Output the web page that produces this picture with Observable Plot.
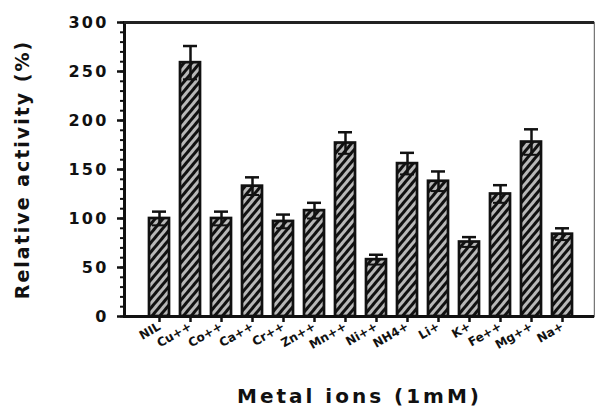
<!DOCTYPE html>
<html>
<head>
<meta charset="utf-8">
<script src="https://cdn.jsdelivr.net/npm/d3@7"></script>
<script src="https://cdn.jsdelivr.net/npm/@observablehq/plot@0.6"></script>
<style>
  html, body { margin: 0; padding: 0; background: #fff; }
  #chart svg { font-family: "DejaVu Sans", "Liberation Sans", Arial, sans-serif; font-weight: bold; }
  .ytk text { font-size: 16px; letter-spacing: 2.2px; }
  .xtk text { font-size: 12px; }
</style>
</head>
<body>
<div id="chart"></div>
<script>
const ions = ["NIL","Cu++","Co++","Ca++","Cr++","Zn++","Mn++","Ni++","NH4+","Li+","K+","Fe++","Mg++","Na+"];
const activity = [100, 259, 100, 133, 97, 108, 177, 58, 156, 138, 76, 125, 178, 84];
const errors = [7, 17, 7, 9, 7, 8, 11, 5, 11, 10, 5, 9, 13, 6];
const yTicks = [0, 50, 100, 150, 200, 250, 300];
const yMinor = d3.range(0, 301, 10);

const data = ions.map((ion, i) => ({ion, v: activity[i], e: errors[i]}));

const chart = Plot.plot({
  width: 595,
  height: 408,
  marginLeft: 124,
  marginRight: 1,
  marginTop: 22,
  marginBottom: 92,
  x: {domain: ions, range: [130, 591], padding: 0.37, paddingOuter: 0.5},
  y: {domain: [0, 300]},
  marks: [
    Plot.frame({stroke: "#777", strokeWidth: 1.5}),
    Plot.barY(data, {x: "ion", y: "v", fill: "url(#hatch)", stroke: "#111", strokeWidth: 2.7}),
    Plot.ruleX(data, {x: "ion", y1: d => d.v - d.e, y2: d => d.v + d.e, stroke: "#111", strokeWidth: 2.5}),
    Plot.tickY(data, {x: "ion", y: d => d.v + d.e, stroke: "#111", strokeWidth: 2.5, insetLeft: 3, insetRight: 3}),
    Plot.tickY(data, {x: "ion", y: d => d.v - d.e, stroke: "#111", strokeWidth: 2, insetLeft: 3, insetRight: 3}),
    Plot.frame({anchor: "left", stroke: "#111", strokeWidth: 3}),
    Plot.ruleY([0], {stroke: "#111", strokeWidth: 3}),
    Plot.ruleY([300], {stroke: "#222", strokeWidth: 3}),
    Plot.axisY({ticks: yMinor, tickSize: 4, text: null, label: null, stroke: "#111", strokeWidth: 2}),
    Plot.axisY({ticks: yTicks, tickSize: 7, tickPadding: 9, label: null, className: "ytk", stroke: "#111", strokeWidth: 2.5, fill: "#111"}),
    Plot.axisX({tickSize: 6, tickRotate: -30, tickPadding: 3, label: null, className: "xtk", stroke: "#111", strokeWidth: 2.5, fill: "#111"}),
    Plot.text(["Relative activity (%)"], {frameAnchor: "left", dx: -102, rotate: -90, textAnchor: "middle", lineAnchor: "middle", fontSize: 19, fontWeight: "bold", fill: "#111", className: "ylab"}),
    Plot.text(["Metal ions (1mM)"], {frameAnchor: "bottom", dy: 80, textAnchor: "middle", lineAnchor: "middle", fontSize: 20, fontWeight: "bold", fill: "#111", className: "xlab"})
  ]
});

// hatch pattern definition for the bars
const svg = d3.select(chart);
const defs = svg.insert("defs", ":first-child");
const pat = defs.append("pattern")
  .attr("id", "hatch")
  .attr("patternUnits", "userSpaceOnUse")
  .attr("width", 6).attr("height", 6)
  .attr("patternTransform", "rotate(40)");
pat.append("rect").attr("width", 6).attr("height", 6).attr("fill", "#b8b8b8");
pat.append("line").attr("x1", 1.5).attr("y1", 0).attr("x2", 1.5).attr("y2", 6)
  .attr("stroke", "#111").attr("stroke-width", 3);

svg.selectAll(".xlab text").style("letter-spacing", "3px");
svg.selectAll(".ylab text").style("letter-spacing", "2px");
document.getElementById("chart").appendChild(chart);
</script>
</body>
</html>
